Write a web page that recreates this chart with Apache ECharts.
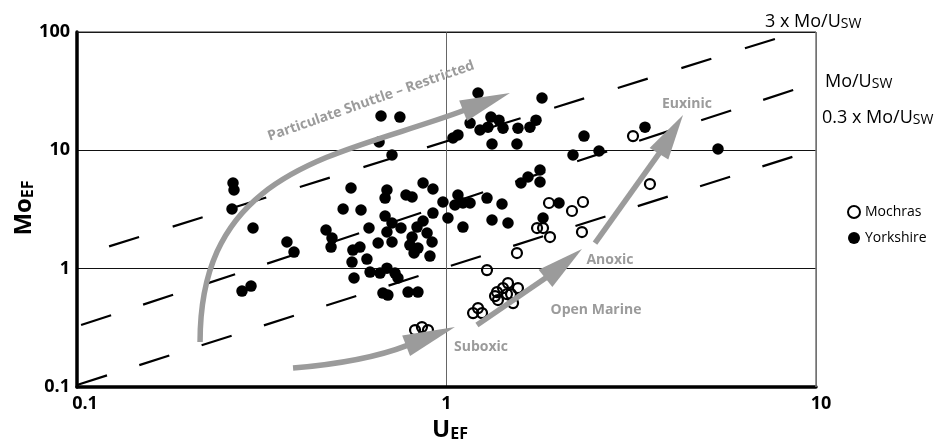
<!DOCTYPE html>
<html><head><meta charset="utf-8">
<script src="https://cdn.jsdelivr.net/npm/echarts/dist/echarts.min.js"></script>
<style>html,body{margin:0;padding:0;background:#fff}#c{width:950px;height:441px}</style>
</head><body><div id="c"></div>
<script>
// ---- data ----
const xTickLabels = ['0.1', '1', '10'];
const yTickLabels = ['0.1', '1', '10', '100'];

const yorkshire = [
  [0.665,19.5],[0.748,19.1],[0.657,11.75],[0.712,9.13],[0.2644,5.29],[0.266,4.62],[0.2627,3.19],
  [0.5515,4.80],[0.690,4.62],[0.682,3.95],[0.777,4.19],[0.807,4.03],[0.864,5.29],[0.919,4.71],
  [0.978,3.66],[0.525,3.19],[0.587,3.13],[0.682,2.78],[0.919,2.95],[1.217,30.5],[1.158,17.0],
  [1.232,14.85],[1.041,12.7],[1.074,13.5],[1.074,4.19],[1.054,3.45],[1.108,3.59],[1.158,3.59],
  [1.287,3.95],[1.413,3.52],[1.813,27.7],[1.319,19.1],[1.387,18.0],[1.295,15.7],[1.422,15.4],
  [1.561,15.4],[1.682,15.7],[1.747,18.0],[1.328,11.3],[1.551,11.3],[2.356,13.2],[2.587,9.86],
  [2.20,9.13],[3.445,15.7],[5.43,10.26],[1.791,6.82],[1.662,5.95],[1.791,5.40],[1.591,5.29],
  [2.016,3.59],[1.825,2.68],[1.009,2.68],[1.108,2.247],[1.328,2.575],[1.467,2.43],[0.2995,2.204],
  [0.370,1.679],[0.3866,1.381],[0.2796,0.6465],[0.2958,0.7126],[0.472,2.12],[0.490,1.814],
  [0.487,1.522],[0.617,2.204],[0.558,1.436],[0.583,1.522],[0.555,1.137],[0.609,1.205],[0.653,1.646],
  [0.621,0.936],[0.661,0.918],[0.562,0.833],[0.673,0.622],[0.694,0.598],[0.690,1.01],[0.712,2.43],
  [0.753,2.204],[0.690,2.039],[0.864,2.526],[0.832,2.247],[0.886,2.0],[0.807,1.85],[0.712,1.679],
  [0.914,1.679],[0.796,1.583],[0.837,1.493],[0.817,1.355],[0.902,1.278],[0.7255,0.918],[0.739,0.833],
  [0.787,0.634],[0.837,0.634]
];

const mochras = [
  [3.197,13.2],[3.553,5.19],[2.341,3.66],[2.186,3.07],[2.326,2.039],[1.894,3.59],[1.758,2.204],
  [1.825,2.204],[1.906,1.85],[1.551,1.355],[1.287,0.973],[1.467,0.7553],[1.561,0.6855],[1.422,0.6855],
  [1.370,0.634],[1.353,0.5865],[1.458,0.610],[1.495,0.610],[1.378,0.543],[1.514,0.512],[1.217,0.4645],
  [1.18,0.4213],[1.248,0.4213],[0.822,0.3027],[0.858,0.3209],[0.891,0.3027]
];

// reference Mo/U lines (endpoints in data units)
const line3x = [[0.1, 1.27], [8.9, 100]];
const line1x = [[0.1, 0.325], [10, 37.5]];
const line03x = [[0.1, 0.104], [10, 10.2]];

// arrows: start, control1, control2, head base, tip (data units)
const arrowShuttle = [[0.2153,0.2396],[0.2153,7.51],[0.5246,8.95],[1.122,21.9],[1.485,30.5]];
const arrowSuboxic = [[0.3843,0.1445],[0.5149,0.1562],[0.6607,0.1825],[0.7866,0.226],[1.054,0.3209]];
const arrowAnoxic  = [[1.209,0.3337],[1.209,0.3337],[1.871,0.849],[1.871,0.849],[2.326,1.464]];
const arrowEuxinic = [[2.523,1.646],[2.523,1.646],[3.783,9.67],[3.783,9.67],[4.366,19.88]];

// ---- chart ----
const FONT = 'Open Sans';
const GRAY = '#9b9b9b';
const chart = echarts.init(document.getElementById('c'), null, {renderer: 'canvas'});

function flat(a) { return a.reduce((r, p) => r.concat(p), []); }

function renderArrow(params, api) {
  const p = [];
  for (let i = 0; i < 5; i++) p.push(api.coord([api.value(2 * i), api.value(2 * i + 1)]));
  const s = p[0], c1 = p[1], c2 = p[2], b = p[3], t = p[4];
  const dx = t[0] - b[0], dy = t[1] - b[1];
  const len = Math.hypot(dx, dy);
  const ux = dx / len, uy = dy / len;
  const nx = -uy, ny = ux;
  const hw = 11;
  const bx = b[0] - ux * 2, by = b[1] - uy * 2;
  return {
    type: 'group',
    children: [
      { type: 'bezierCurve',
        shape: { x1: s[0], y1: s[1], cpx1: c1[0], cpy1: c1[1], cpx2: c2[0], cpy2: c2[1], x2: b[0], y2: b[1] },
        style: { stroke: GRAY, lineWidth: 5.5, fill: 'none', lineCap: 'butt' } },
      { type: 'polygon',
        shape: { points: [[t[0], t[1]], [bx + nx * hw, by + ny * hw], [bx - nx * hw, by - ny * hw]] },
        style: { fill: GRAY } }
    ]
  };
}

function dashLine(data, dash, offset) {
  return {
    type: 'line', data: data, showSymbol: false, symbol: 'none', silent: true, z: 2,
    lineStyle: { color: '#000', width: 2.2, type: dash, dashOffset: offset },
    emphasis: { disabled: true }, animation: false
  };
}

function logLabel(labels) {
  return function (v) { return labels[Math.round(Math.log10(v)) + 1] || ''; };
}
function xLabel(v) {
  const i = Math.round(Math.log10(v)) + 1;
  const t = xTickLabels[i] || '';
  return i === 0 ? '{a|' + t + '}' : (i === 2 ? '{c|' + t + '}' : '{b|' + t + '}');
}
const xRichBase = { fontFamily: FONT, fontWeight: 'bold', fontSize: 18, color: '#000' };

const option = {
  backgroundColor: '#fff',
  animation: false,
  grid: { left: 77, right: 134, top: 32, bottom: 54, show: false },
  xAxis: {
    type: 'log', logBase: 10, min: 0.1, max: 10,
    axisLine: { show: true, onZero: false, lineStyle: { color: '#000', width: 3.5 } },
    axisTick: { show: false },
    splitLine: { show: true, lineStyle: { color: '#666', width: 1 } },
    minorSplitLine: { show: false },
    axisLabel: { formatter: xLabel, margin: 8, color: '#000',
      fontFamily: FONT, fontWeight: 'bold', fontSize: 18,
      rich: {
        a: Object.assign({ padding: [0, 0, 0, 16] }, xRichBase),
        b: Object.assign({}, xRichBase),
        c: Object.assign({ padding: [0, 0, 0, 10] }, xRichBase)
      } }
  },
  yAxis: {
    type: 'log', logBase: 10, min: 0.1, max: 100,
    axisLine: { show: true, onZero: false, lineStyle: { color: '#000', width: 3.5 } },
    axisTick: { show: false },
    splitLine: { show: true, lineStyle: { color: '#111', width: 1 } },
    axisLabel: { formatter: logLabel(yTickLabels), margin: 7, color: '#000',
      fontFamily: FONT, fontWeight: 'bold', fontSize: 18 }
  },
  legend: {
    orient: 'vertical', left: 842, top: 200, itemWidth: 12, itemHeight: 12, itemGap: 12,
    textStyle: { fontFamily: FONT, fontSize: 14, color: '#000' },
    selectedMode: false,
    data: [
      { name: 'Mochras', icon: 'circle', itemStyle: { color: 'rgba(0,0,0,0)', borderColor: '#000', borderWidth: 2 } },
      { name: 'Yorkshire', icon: 'circle', itemStyle: { color: '#000', borderWidth: 0 } }
    ]
  },
  series: [
    dashLine(line3x, [31.4, 35.2], 33),
    dashLine(line1x, [31.6, 33.7], 61),
    dashLine(line03x, [31.5, 33.9], 0),
    { name: 'Yorkshire', type: 'scatter', data: yorkshire, symbol: 'circle', symbolSize: 11.5, z: 3,
      itemStyle: { color: '#000', opacity: 1 }, emphasis: { disabled: true } },
    { name: 'Mochras', type: 'scatter', data: mochras, symbol: 'circle', symbolSize: 10, z: 3,
      itemStyle: { color: 'rgba(0,0,0,0)', borderColor: '#000', borderWidth: 2.2, opacity: 1 },
      emphasis: { disabled: true } },
    { type: 'custom', renderItem: renderArrow, silent: true, z: 4,
      encode: { x: [0, 2, 4, 6, 8], y: [1, 3, 5, 7, 9] },
      data: [flat(arrowShuttle), flat(arrowSuboxic), flat(arrowAnoxic), flat(arrowEuxinic)] }
  ],
  graphic: [
    // plot frame (top and right)
    { type: 'line', shape: { x1: 77, y1: 32, x2: 816, y2: 32 }, style: { stroke: '#222', lineWidth: 1 }, z: 1, silent: true },
    { type: 'line', shape: { x1: 816, y1: 32, x2: 816, y2: 387 }, style: { stroke: '#777', lineWidth: 1.5 }, z: 1, silent: true },
    // annotations
    { type: 'text', x: 371, y: 101, rotation: 19.3 * Math.PI / 180, z: 10, silent: true,
      style: { text: 'Particulate Shuttle \u2013 Restricted', fill: GRAY, font: 'bold 14px "Open Sans"', align: 'center', verticalAlign: 'middle' } },
    { type: 'text', x: 687, y: 104, z: 10, silent: true,
      style: { text: 'Euxinic', fill: GRAY, font: 'bold 14px "Open Sans"', align: 'center', verticalAlign: 'middle' } },
    { type: 'text', x: 610, y: 260, z: 10, silent: true,
      style: { text: 'Anoxic', fill: GRAY, font: 'bold 14px "Open Sans"', align: 'center', verticalAlign: 'middle' } },
    { type: 'text', x: 596, y: 310, z: 10, silent: true,
      style: { text: 'Open Marine', fill: GRAY, font: 'bold 14px "Open Sans"', align: 'center', verticalAlign: 'middle' } },
    { type: 'text', x: 481, y: 347, z: 10, silent: true,
      style: { text: 'Suboxic', fill: GRAY, font: 'bold 14px "Open Sans"', align: 'center', verticalAlign: 'middle' } },
    // reference line labels
    { type: 'text', x: 765, y: 22, z: 10, silent: true,
      style: { text: '{m|3 x Mo/U}{s|SW}', align: 'left', verticalAlign: 'middle',
        rich: { m: { fontFamily: FONT, fontSize: 18, fill: '#000' }, s: { fontFamily: FONT, fontSize: 14, fill: '#000', verticalAlign: 'bottom', lineHeight: 11 } } } },
    { type: 'text', x: 825, y: 82, z: 10, silent: true,
      style: { text: '{m|Mo/U}{s|SW}', align: 'left', verticalAlign: 'middle',
        rich: { m: { fontFamily: FONT, fontSize: 18, fill: '#000' }, s: { fontFamily: FONT, fontSize: 14, fill: '#000', verticalAlign: 'bottom', lineHeight: 11 } } } },
    { type: 'text', x: 822, y: 118, z: 10, silent: true,
      style: { text: '{m|0.3 x Mo/U}{s|SW}', align: 'left', verticalAlign: 'middle',
        rich: { m: { fontFamily: FONT, fontSize: 18, fill: '#000' }, s: { fontFamily: FONT, fontSize: 14, fill: '#000', verticalAlign: 'bottom', lineHeight: 11 } } } },
    // axis titles
    { type: 'text', x: 450, y: 430, z: 10, silent: true,
      style: { text: '{u|U}{e|EF}', align: 'center', verticalAlign: 'middle',
        rich: { u: { fontFamily: FONT, fontWeight: 'bold', fontSize: 24, fill: '#000' }, e: { fontFamily: FONT, fontWeight: 'bold', fontSize: 16, fill: '#000', verticalAlign: 'bottom', lineHeight: 15 } } } },
    { type: 'text', x: 24, y: 208, rotation: Math.PI / 2, z: 10, silent: true,
      style: { text: '{u|Mo}{e|EF}', align: 'center', verticalAlign: 'middle',
        rich: { u: { fontFamily: FONT, fontWeight: 'bold', fontSize: 24, fill: '#000' }, e: { fontFamily: FONT, fontWeight: 'bold', fontSize: 16, fill: '#000', verticalAlign: 'bottom', lineHeight: 15 } } } }
  ]
};
chart.setOption(option);
</script>
</body></html>
